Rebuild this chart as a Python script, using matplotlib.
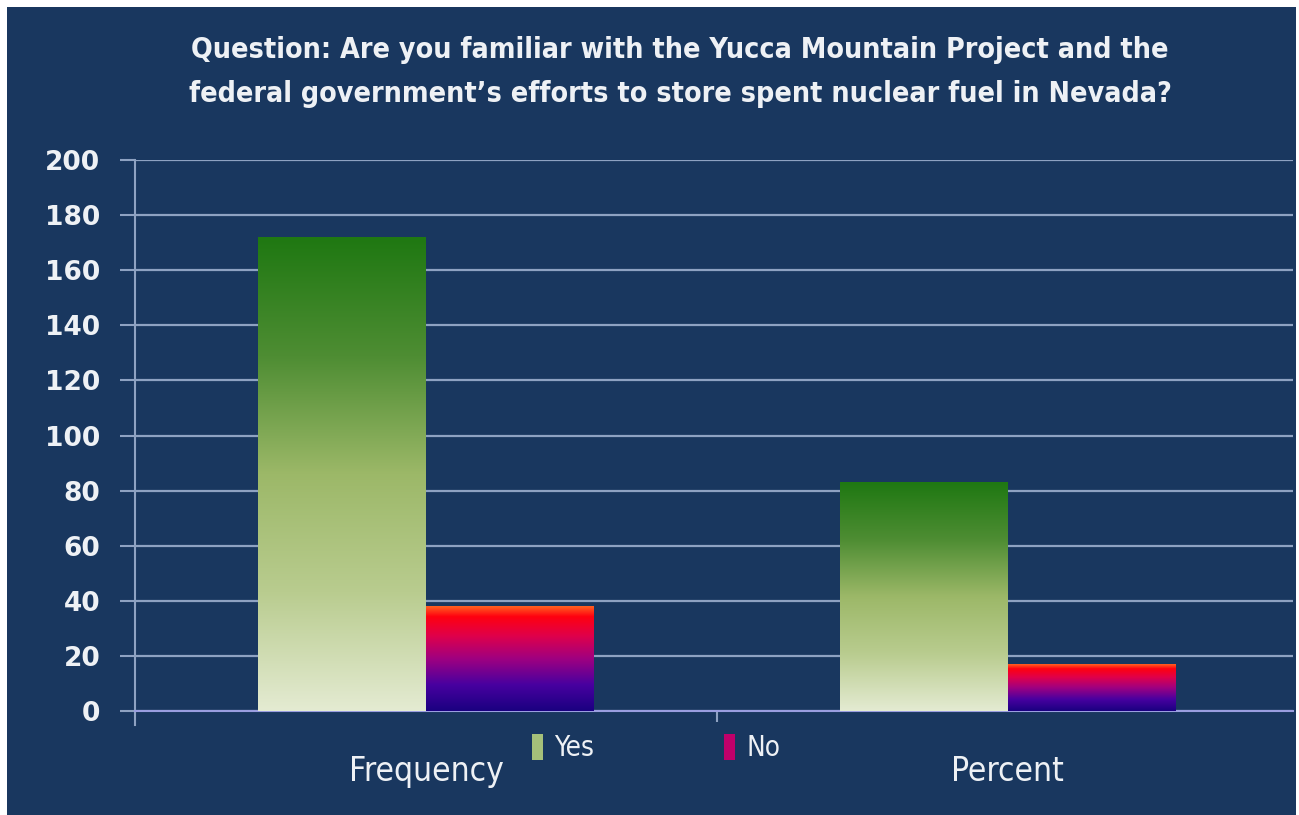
import numpy as np
import matplotlib.pyplot as plt
from matplotlib.colors import LinearSegmentedColormap
from matplotlib.patches import Rectangle, Patch

categories = ['Frequency', 'Percent']
yes_values = [172, 83]
no_values = [38, 17]
series_names = ['Yes', 'No']
y_ticks = [0, 20, 40, 60, 80, 100, 120, 140, 160, 180, 200]

navy = '#19375f'
grid_col = '#8ea2c2'
text_col = '#eef1f5'

yes_cmap = LinearSegmentedColormap.from_list(
    'yes', ['#e4ebd2', '#b9cc8f', '#9cb868', '#4e8d33', '#1f7812'])
no_cmap = LinearSegmentedColormap.from_list(
    'no', [(0, '#1a0080'), (0.25, '#4800a0'), (0.5, '#a00080'),
           (0.72, '#e0004a'), (0.9, '#ff0010'), (1, '#ff6020')])

fig = plt.figure(figsize=(12.99, 8.15), dpi=100, facecolor='white')
fig.patches.append(Rectangle((7 / 1299, 0), 1289 / 1299, 808 / 815,
                             transform=fig.transFigure, facecolor=navy,
                             edgecolor='none', zorder=-5))

ax = fig.add_axes([135 / 1299, 104 / 815, 1158 / 1299, 551 / 815])
ax.set_zorder(2)
ax.set_facecolor(navy)

x = np.arange(len(categories))
w = 0.288


def gradient_bars(xs, vals, cmap):
    bars = ax.bar(xs, vals, width=w, color='none', edgecolor='none', zorder=3)
    grad = np.linspace(0, 1, 256).reshape(-1, 1)
    for b in bars:
        x0, y0 = b.get_x(), b.get_y()
        im = ax.imshow(grad, cmap=cmap, origin='lower', aspect='auto',
                       extent=[x0, x0 + b.get_width(), y0, y0 + b.get_height()],
                       zorder=3, interpolation='bilinear')
        im.set_clip_path(b)
    return bars


gradient_bars(x - w / 2, yes_values, yes_cmap)
gradient_bars(x + w / 2, no_values, no_cmap)
ax.set_xlim(-0.5, 1.49)
ax.set_ylim(0, 200)

ax.set_yticks(y_ticks)
ax.yaxis.grid(True, color=grid_col, lw=1.6, zorder=1)
ax.set_axisbelow(True)
for s in ['top', 'right']:
    ax.spines[s].set_visible(False)
ax.spines['left'].set_color(grid_col)
ax.spines['left'].set_linewidth(1.5)
ax.spines['left'].set_bounds(-5, 200)
ax.spines['bottom'].set_color('#9a9ee0')
ax.spines['bottom'].set_linewidth(1.5)
ax.tick_params(axis='y', colors=grid_col, length=11, width=1.5, pad=14,
               labelcolor=text_col, labelsize=19)
for lab in ax.get_yticklabels():
    lab.set_fontweight('bold')

ax.set_xticks([0.5])
ax.set_xticklabels([''])
ax.tick_params(axis='x', colors=grid_col, length=8, width=1.5)

for xi, name in zip(x, categories):
    ax.text(xi, -22, name, ha='center', va='center', fontsize=24,
            color=text_col, fontstretch='condensed', family='DejaVu Sans',
            clip_on=False)

handles = [Patch(facecolor='#a5c07a', edgecolor='none'),
           Patch(facecolor='#c0006a', edgecolor='none')]
leg = fig.legend(handles, series_names, loc='center',
                 bbox_to_anchor=(656 / 1299, 1 - 748 / 815),
                 ncol=2, frameon=False, labelcolor=text_col,
                 handlelength=0.4, handleheight=1.1, handletextpad=0.4,
                 columnspacing=4.7,
                 prop={'family': 'DejaVu Sans', 'stretch': 'condensed', 'size': 20})
leg.set_zorder(5)

fig.text(680 / 1299, 1 - 72 / 815,
         'Question: Are you familiar with the Yucca Mountain Project and the\n'
         'federal government\u2019s efforts to store spent nuclear fuel in Nevada?',
         ha='center', va='center', fontsize=20.5, fontweight='bold', color=text_col,
         fontstretch='condensed', family='DejaVu Sans', linespacing=1.7)

fig.savefig('out.png', dpi=100, facecolor='white')
